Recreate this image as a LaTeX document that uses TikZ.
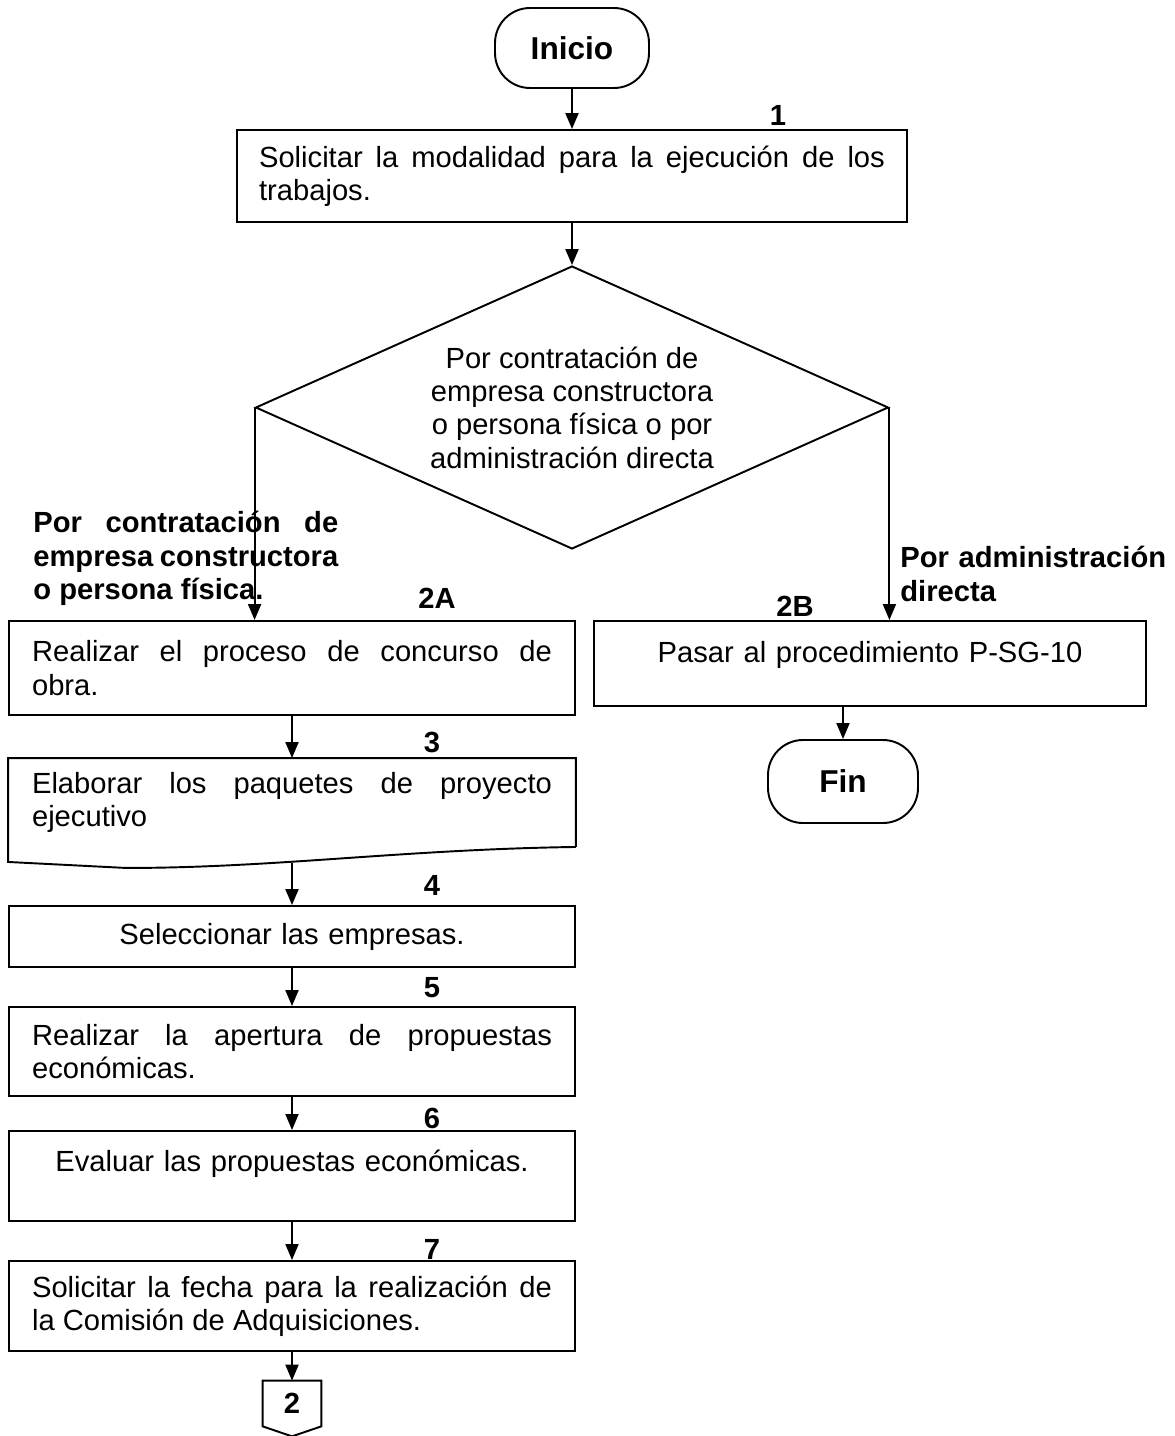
\documentclass[tikz,border=0pt]{standalone}
\usepackage{fontspec}
\setmainfont{Liberation Sans}
\usetikzlibrary{arrows.meta, shapes.geometric}

\begin{document}
\begin{tikzpicture}[
x=0.02cm, y=-0.02cm,
font=\fontsize{16.6}{19}\selectfont,
every node/.style={inner sep=0pt},
box/.style={rectangle, draw, line width=1.1pt, minimum width=11.32cm, text width=10.4cm, align=justify},
term/.style={rectangle, draw, line width=1.1pt, rounded corners=0.7cm, minimum width=3.08cm, minimum height=1.6cm, font=\fontsize{18}{21}\selectfont\bfseries},
decision/.style={diamond, draw, line width=1.1pt, aspect=2.24, minimum width=12.66cm, minimum height=5.66cm, align=center},
num/.style={font=\fontsize{16.6}{19}\selectfont\bfseries},
lbl/.style={font=\fontsize{16.6}{19}\selectfont\bfseries, anchor=north west},
arrow/.style={-{Triangle[length=0.32cm, width=0.26cm]}, line width=1.1pt}
]
\useasboundingbox (0,0) rectangle (1175,1436);

    \node[term] (ini) at (572,48) {Inicio};
    \node[box, minimum width=13.4cm, text width=12.52cm, minimum height=1.84cm] (b1) at (572,176)
        {Solicitar la modalidad para la ejecución de los\linebreak trabajos.};
    \node[decision] (dec) at (572,407.5)
        {Por contratación de\\ empresa constructora\\ o persona física o por\\ administración directa};

    % rama izquierda
    \node[box, minimum height=1.88cm] (b2a) at (292,668)
        {Realizar el proceso de concurso de\linebreak obra.};
    \node[box, draw=none, minimum height=1.74cm] (b3) at (292,802.5)
        {Elaborar los paquetes de proyecto\linebreak ejecutivo};
    \node[box, align=center, minimum height=1.22cm] (b4) at (292,936.5) {Seleccionar las empresas.};
    \node[box, minimum height=1.78cm] (b5) at (292,1051.5)
        {Realizar la apertura de propuestas\linebreak económicas.};
    \node[box, align=center, minimum height=1.8cm] (b6) at (292,1176)
        {\strut Evaluar las propuestas económicas.\\[-6pt] \strut};
    \node[box, minimum height=1.8cm] (b7) at (292,1306)
        {Solicitar la fecha para la realización de\linebreak la Comisión de Adquisiciones.};
    \node[num, minimum width=1.16cm, minimum height=0.9cm] (c2) at (292,1403.5) {2};

    % rama derecha
    \node[box, align=center, minimum width=11.04cm, text width=10.2cm, minimum height=1.7cm] (b2b) at (870,663.5)
        {\strut Pasar al procedimiento P-SG-10\\[-10pt] \strut};
    \node[term, minimum width=3cm, minimum height=1.66cm] (fin) at (843,781.5) {Fin};

    % etiquetas
    \node[lbl, text width=6.1cm, align=justify] (lizq) at (33,511)
        {Por contratación de\linebreak empresa constructora\linebreak o persona física.};
    \node[lbl, text width=5.5cm, align=left] (lder) at (900,546) {Por administración\\ directa};
    \node[num] (n1) at (778,115) {1};
    \node[num] (n2a) at (437,598) {2A};
    \node[num] (n2b) at (795,606) {2B};
    \node[num] (n3) at (432,742) {3};
    \node[num] (n4) at (432,885) {4};
    \node[num] (n5) at (432,988) {5};
    \node[num] (n6) at (432,1118) {6};
    \node[num] (n7) at (432,1249) {7};

    % documento y conector
    \draw[line width=1.1pt] (b3.south east) -- (b3.north east) -- (b3.north west) -- ([yshift=-0.3cm]b3.south west)
        -- ([shift={(2.36cm,-0.42cm)}]b3.south west) .. controls +(3cm,0cm) and +(-3.5cm,-0.05cm) .. (b3.south east);
    \draw[line width=1.1pt] (c2.north west) -- (c2.north east) -- (c2.south east) -- ([yshift=-0.2cm]c2.south) -- (c2.south west) -- cycle;

    \draw[arrow] (ini) -- (b1);
    \draw[arrow] (b1) -- (dec);
    \draw[arrow] (dec.west) -- (dec.west |- b2a.north);
    \draw[arrow] (dec.east) -- (dec.east |- b2b.north);
    \draw[arrow] (b2a) -- (b3);
    \draw[arrow] ([yshift=-0.32cm]b3.south) -- (b4);
    \draw[arrow] (b4) -- (b5);
    \draw[arrow] (b5) -- (b6);
    \draw[arrow] (b6) -- (b7);
    \draw[arrow] (b7) -- (c2);
    \draw[arrow] (fin.north |- b2b.south) -- (fin);

\end{tikzpicture}
\end{document}
